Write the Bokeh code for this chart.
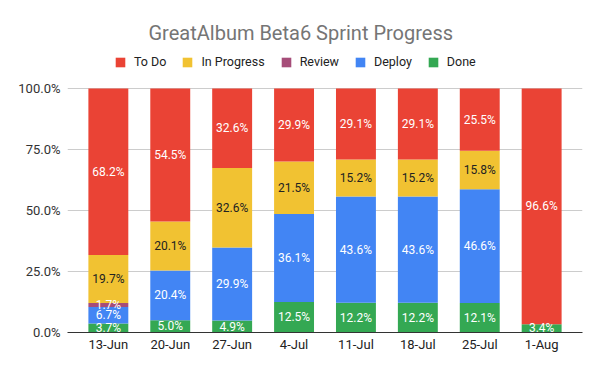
import numpy as np
from bokeh.plotting import figure
from bokeh.models import (ColumnDataSource, FactorRange, FixedTicker, Range1d,
                          NumeralTickFormatter, Legend, LegendItem)
from bokeh.embed import file_html
from bokeh.resources import INLINE
from bokeh.core.properties import value

# ---- data (percent) ----
dates = ["13-Jun", "20-Jun", "27-Jun", "4-Jul", "11-Jul", "18-Jul", "25-Jul", "1-Aug"]
done = [3.7, 5.0, 4.9, 12.5, 12.2, 12.2, 12.1, 3.4]
deploy = [6.7, 20.4, 29.9, 36.1, 43.6, 43.6, 46.6, 0.0]
review = [1.7, 0.0, 0.0, 0.0, 0.0, 0.0, 0.0, 0.0]
in_progress = [19.7, 20.1, 32.6, 21.5, 15.2, 15.2, 15.8, 0.0]
to_do = [68.2, 54.5, 32.6, 29.9, 29.1, 29.1, 25.5, 96.6]

series_names = ["Done", "Deploy", "Review", "In Progress", "To Do"]
series_values = [done, deploy, review, in_progress, to_do]
legend_order = ["To Do", "In Progress", "Review", "Deploy", "Done"]
y_ticks = [0.0, 0.25, 0.5, 0.75, 1.0]

colors = {"Done": "#34a853", "Deploy": "#4285f4", "Review": "#a64d79",
          "In Progress": "#f1c232", "To Do": "#ea4335"}
text_colors = {"Done": "#ffffff", "Deploy": "#ffffff", "Review": "#ffffff",
               "In Progress": "#222222", "To Do": "#ffffff"}

FONT = "Roboto"

# ---- layout (pixels) ----
W, H = 600, 371
FRAME_TOP = 44          # top of frame (legend lives inside it)
PLOT_TOP = 88           # pixel where 100 % sits
PLOT_BOTTOM = 332
y_top = 1.0 + (PLOT_TOP - FRAME_TOP) / (PLOT_BOTTOM - PLOT_TOP)

# ---- normalise to 100 % stacked ----
vals = np.array(series_values, dtype=float)
totals = vals.sum(axis=0)
frac = vals / totals

data = {"dates": dates}
keys = []
for i, name in enumerate(series_names):
    k = f"s{i}"
    keys.append(k)
    data[k] = frac[i]
src = ColumnDataSource(data)

# label positions (segment mid-points)
cum = np.cumsum(frac, axis=0)
lx, ly, lt, lc = [], [], [], []
for i, name in enumerate(series_names):
    for j, d in enumerate(dates):
        if vals[i, j] > 0:
            lx.append(d)
            ly.append(cum[i, j] - frac[i, j] / 2)
            lt.append(f"{vals[i, j]:.1f}%")
            lc.append(text_colors[name])
lsrc = ColumnDataSource(dict(x=lx, y=ly, text=lt, tc=lc))

p = figure(width=W, height=H, output_backend="svg", toolbar_location=None,
           x_range=FactorRange(factors=dates, range_padding=0.16,
                               range_padding_units="absolute"),
           y_range=Range1d(0, y_top), min_border_left=67, min_border_right=18,
           min_border_top=FRAME_TOP, min_border_bottom=H - PLOT_BOTTOM)

renderers = p.vbar_stack(keys, x="dates", width=0.645, source=src,
                         color=[colors[n] for n in series_names], line_color=None)
rmap = dict(zip(series_names, renderers))

p.text(x="x", y="y", text="text", source=lsrc, text_color="tc",
       text_align="center", text_baseline="middle",
       text_font=value(FONT), text_font_size="12px")

# legend (inside the frame, above the 100 % line)
legend = Legend(items=[LegendItem(label=n, renderers=[rmap[n]]) for n in legend_order],
                orientation="horizontal", location=(47, 263),
                glyph_width=12, glyph_height=12, label_standoff=8, spacing=15,
                padding=0, margin=0, border_line_alpha=0, background_fill_alpha=0,
                label_text_font=FONT, label_text_font_size="12.5px",
                label_text_color="#222222")
p.add_layout(legend, "center")

# title
p.title.text = "GreatAlbum Beta6 Sprint Progress"
p.title.text_font = FONT
p.title.text_font_size = "20px"
p.title.text_font_style = "normal"
p.title.text_color = "#757575"
p.title.align = "left"
p.title.offset = 81
p.title.standoff = 0

# axes
p.yaxis.ticker = FixedTicker(ticks=y_ticks)
p.yaxis.formatter = NumeralTickFormatter(format="0.0%")
p.yaxis.axis_line_color = None
p.yaxis.major_tick_line_color = None
p.yaxis.minor_tick_line_color = None
p.yaxis.major_tick_out = 0
p.yaxis.major_tick_in = 0
p.yaxis.major_label_standoff = 7
p.yaxis.major_label_text_font = FONT
p.yaxis.major_label_text_font_size = "13px"
p.yaxis.major_label_text_color = "#333333"

p.xaxis.axis_line_color = "#333333"
p.xaxis.major_tick_line_color = None
p.xaxis.minor_tick_line_color = None
p.xaxis.major_tick_out = 0
p.xaxis.major_tick_in = 0
p.xaxis.major_label_standoff = 4
p.xaxis.major_label_text_font = FONT
p.xaxis.major_label_text_font_size = "13px"
p.xaxis.major_label_text_color = "#222222"

p.xgrid.grid_line_color = None
p.ygrid.grid_line_color = "#cccccc"
p.outline_line_color = None

open("out.html", "w").write(file_html(p, INLINE))
